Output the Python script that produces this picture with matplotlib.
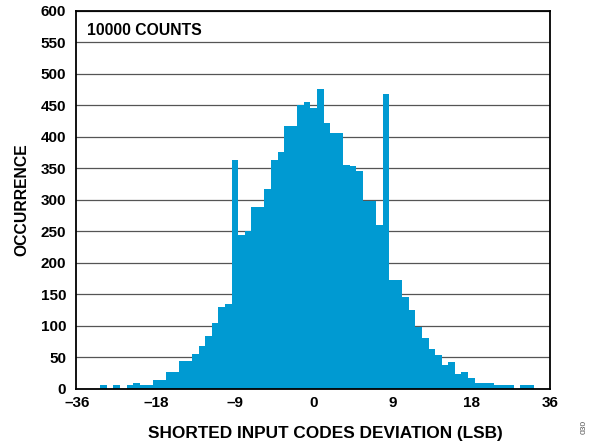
import numpy as np
import matplotlib.pyplot as plt

plt.rcParams['font.family'] = ['Liberation Sans', 'DejaVu Sans']
plt.rcParams['font.weight'] = 'bold'

# output code relative to mean (LSB), one bar per code
codes = np.arange(-36, 36)
counts = [0, 0, 0, 0, 5, 0, 5, 0, 5, 9, 5, 5, 14, 14, 26, 26, 43, 43, 55, 67,
          84, 104, 130, 134, 363, 243, 250, 288, 288, 317, 363, 376, 417, 417, 450, 455,
          446, 476, 421, 405, 405, 355, 353, 346, 297, 297, 259, 467, 172, 172, 146, 125,
          97, 80, 63, 54, 38, 42, 23, 26, 17, 9, 9, 9, 5, 5, 5, 0, 5, 5, 0, 0]

tick_pos = [-36, -24, -12, 0, 12, 24, 36]
tick_labels = ['\u201336', '\u201318', '\u20139', '0', '9', '18', '36']

fig = plt.figure(figsize=(5.95, 4.47), dpi=100)
ax = fig.add_axes([0.1277, 0.1307, 0.7967, 0.8458])

ax.bar(codes, counts, width=1.0, color='#009AD2', linewidth=0, zorder=2)

ax.set_xlim(-36.2, 35.8)
ax.set_ylim(0, 600)
ax.set_yticks(np.arange(0, 601, 50))
ax.set_xticks(tick_pos)
ax.set_xticklabels(tick_labels)
ax.tick_params(axis='both', length=0, labelsize=11)
ax.tick_params(axis='y', pad=7)
ax.tick_params(axis='x', pad=5)

ax.grid(axis='y', color='#555555', linewidth=0.9, zorder=1)
ax.set_axisbelow(True)
for sp in ax.spines.values():
    sp.set_linewidth(1.3)
    sp.set_color('black')

ax.set_xlabel('SHORTED INPUT CODES DEVIATION (LSB)', fontsize=12.4, fontweight='bold')
ax.xaxis.set_label_coords(0.527, -0.098)
ax.set_ylabel('OCCURRENCE', fontsize=11.3, fontweight='bold', labelpad=8)

ax.text(0.024, 0.968, '10000 COUNTS', transform=ax.transAxes, fontsize=11.3,
        fontweight='bold', va='top', ha='left',
        bbox=dict(facecolor='white', edgecolor='none', pad=2))

fig.text(0.982, 0.03, '030', rotation=90, fontsize=6, color='#555555',
         fontweight='normal', ha='center', va='bottom')

fig.savefig('out.png', dpi=100)
